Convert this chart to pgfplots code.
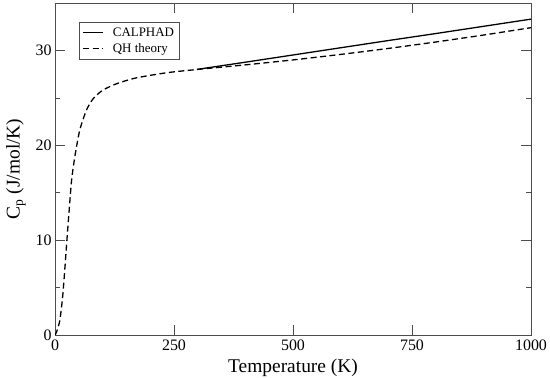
\documentclass[border=0pt]{standalone}
\usepackage{fontspec}
\setmainfont{Liberation Serif}
\usepackage{pgfplots}
\pgfplotsset{compat=1.18}
\begin{document}
\begin{tikzpicture}
\useasboundingbox (-55bp,-43bp) rectangle (495bp,335bp);
\begin{axis}[
  scale only axis,
  width=476bp, height=332bp,
  xmin=0, xmax=1000, ymin=0, ymax=35,
  xtick={0,250,500,750,1000},
  ytick={0,10,20,30},
  minor y tick num=1,
  tick align=inside,
  major tick length=10bp,
  minor tick length=5bp,
  tick style={color=black!70, line width=0.6pt},
  axis line style={color=black!70, line width=0.8pt},
  /pgf/number format/assume math mode=true,
  /pgf/number format/1000 sep={},
  ticklabel style={font=\rmfamily\fontsize{16}{18}\selectfont},
  xticklabel style={yshift=-1bp},
  xlabel={Temperature (K)},
  ylabel={C\textsubscript{p} (J/mol/K)},
  label style={font=\rmfamily\fontsize{19.5}{22}\selectfont},
  xlabel style={yshift=-2bp},
  ylabel style={yshift=3bp},
  legend style={at={(axis description cs:0.05,0.943)}, anchor=north west,
    font=\rmfamily\fontsize{13}{15}\selectfont, draw=black!70, line width=0.6pt,
    inner xsep=3.5bp, inner ysep=3.5bp, row sep=1.5bp, column sep=7bp},
  legend cell align=left,
  legend image code/.code={\draw[#1, line width=1.3pt] (0bp,0bp) -- (20bp,0bp);},
]
\addplot[black, line width=1.3pt] coordinates {
 (298.15,28.0) (400,28.76) (500,29.52) (600,30.28) (700,31.04) (800,31.78) (900,32.54) (1000,33.3)
};
\addlegendentry{CALPHAD}
\addplot[black, line width=1.3pt, dash pattern=on 6bp off 3.5bp, smooth, tension=0.4] coordinates {
 (0,0) (3.5,0.35) (10,1.5) (16,4) (21,7.2) (25,10) (30,13.3) (35,16.4) (42,18.9) (52,21.6) (66,23.7) (80,24.9) (100,25.8) (130,26.5) (170,27.1) (235,27.65) (300,28.0) (400,28.48) (500,29.0) (600,29.58) (700,30.21) (800,30.89) (900,31.62) (1000,32.4)
};
\addlegendentry{QH theory}
\end{axis}
\end{tikzpicture}
\end{document}
